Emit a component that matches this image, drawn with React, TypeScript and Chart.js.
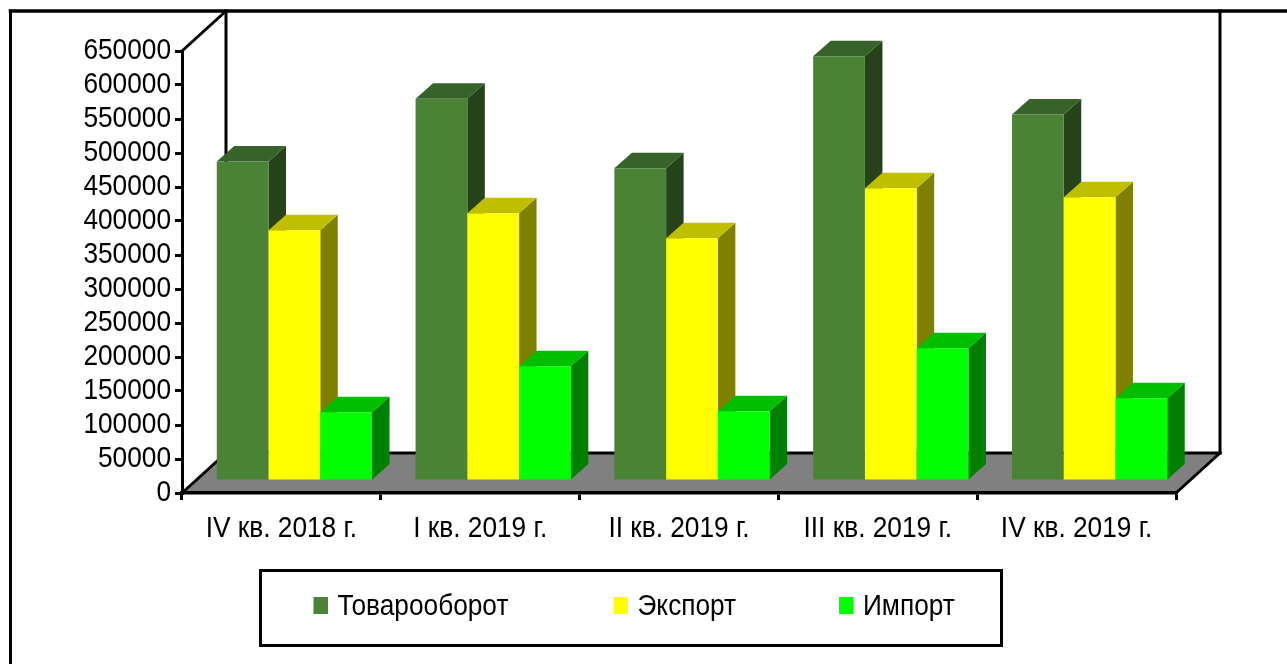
import React, { useEffect, useRef } from "react";
import { Chart, registerables } from "chart.js";

Chart.register(...registerables);

const categories = ["IV кв. 2018 г.", "I кв. 2019 г.", "II кв. 2019 г.", "III кв. 2019 г.", "IV кв. 2019 г."];
const turnover = [470000, 562000, 460000, 624500, 539000];
const exportsValues = [368700, 393700, 357000, 430400, 417200];
const importsValues = [101000, 168700, 102500, 195100, 121600];
const yTicks = { min: 0, max: 650000, step: 50000 };

const seriesLabels = ["Товарооборот", "Экспорт", "Импорт"];
const frontColors = ["#4A8236", "#FFFF00", "#00FF00"];
const topColors = ["#37622A", "#BFBF00", "#00BF00"];
const sideColors = ["#25421B", "#808000", "#008000"];

const FONT = '"Liberation Sans", Arial, sans-serif';
const FONT_SIZE = 30;
const TEXT_SQUEEZE = 0.875;

const WALL_DX = 44;
const WALL_DY = 40;
const BAR_SHIFT_X = 13;
const BAR_SHIFT_Y = 12;
const BAR_DX = 17.5;
const BAR_DY = 15.5;

function poly(ctx: CanvasRenderingContext2D, pts: number[][], fill: string) {
  ctx.fillStyle = fill;
  ctx.beginPath();
  pts.forEach(([x, y], i) => (i ? ctx.lineTo(x, y) : ctx.moveTo(x, y)));
  ctx.closePath();
  ctx.fill();
}

function line(ctx: CanvasRenderingContext2D, x1: number, y1: number, x2: number, y2: number, w = 3) {
  ctx.strokeStyle = "#000";
  ctx.lineWidth = w;
  ctx.lineCap = "square";
  ctx.beginPath();
  ctx.moveTo(x1, y1);
  ctx.lineTo(x2, y2);
  ctx.stroke();
}

const stagePlugin = {
  id: "stage",
  beforeDraw(chart: any) {
    const { ctx, chartArea: a, width, height } = chart;
    ctx.save();
    ctx.fillStyle = "#fff";
    ctx.fillRect(0, 0, width, height);
    // outer frame
    line(ctx, 10.5, 11, width + 4, 11, 3.5);
    line(ctx, 10.5, 11, 10.5, height + 4, 3);
    // floor and back walls
    poly(ctx, [
      [a.left, a.bottom],
      [a.left + WALL_DX, a.bottom - WALL_DY],
      [a.right + WALL_DX, a.bottom - WALL_DY],
      [a.right, a.bottom],
    ], "#808080");
    line(ctx, a.left + WALL_DX, a.top - WALL_DY, a.left + WALL_DX, a.bottom - WALL_DY);
    line(ctx, a.right + WALL_DX, a.top - WALL_DY, a.right + WALL_DX, a.bottom - WALL_DY);
    line(ctx, a.left + WALL_DX, a.bottom - WALL_DY, a.right + WALL_DX, a.bottom - WALL_DY);
    line(ctx, a.left, a.top, a.left + WALL_DX, a.top - WALL_DY);
    line(ctx, a.left, a.bottom, a.left + WALL_DX, a.bottom - WALL_DY);
    line(ctx, a.right, a.bottom, a.right + WALL_DX, a.bottom - WALL_DY);
    ctx.restore();
  },
  beforeDatasetDraw() {
    return false;
  },
  afterDatasetsDraw(chart: any) {
    const { ctx } = chart;
    ctx.save();
    ctx.translate(BAR_SHIFT_X, -BAR_SHIFT_Y);
    chart.data.datasets.forEach((_: any, di: number) => {
      chart.getDatasetMeta(di).data.forEach((bar: any) => {
        const l = bar.x - bar.width / 2;
        const r = bar.x + bar.width / 2;
        const t = bar.y;
        const b = bar.base;
        poly(ctx, [[r, t], [r + BAR_DX, t - BAR_DY], [r + BAR_DX, b - BAR_DY], [r, b]], sideColors[di]);
        poly(ctx, [[l, t], [l + BAR_DX, t - BAR_DY], [r + BAR_DX, t - BAR_DY], [r, t]], topColors[di]);
        bar.draw(ctx);
      });
    });
    ctx.restore();
  },
  afterDraw(chart: any) {
    const { ctx } = chart;
    ctx.save();
    // legend box
    ctx.strokeStyle = "#000";
    ctx.lineWidth = 3;
    ctx.strokeRect(260.5, 570.5, 741, 75);
    const swatchX = [313.5, 613.5, 839];
    ctx.font = `${FONT_SIZE}px ${FONT}`;
    ctx.textBaseline = "middle";
    ctx.textAlign = "left";
    chart.data.datasets.forEach((ds: any, i: number) => {
      ctx.fillStyle = ds.backgroundColor;
      ctx.fillRect(swatchX[i], 597, 14.5, 17);
      ctx.fillStyle = "#000";
      ctx.fillText(ds.label, swatchX[i] + 24, 607);
    });
    ctx.restore();
  },
};

export default function App() {
  const ref = useRef<HTMLCanvasElement>(null);
  useEffect(() => {
    const canvas = ref.current!;
    const context = canvas.getContext("2d")!;
    // The reference's lettering is condensed: every label is drawn narrower than the font's natural width.
    const plainFillText = context.fillText;
    context.fillText = function (text: string, x: number, y: number) {
      const natural = context.measureText(text).width;
      plainFillText.call(context, text, x, y, natural * TEXT_SQUEEZE);
    } as any;
    const chart = new Chart(canvas, {
      type: "bar",
      data: {
        labels: categories,
        datasets: [
          { label: seriesLabels[0], data: turnover, backgroundColor: frontColors[0] },
          { label: seriesLabels[1], data: exportsValues, backgroundColor: frontColors[1] },
          { label: seriesLabels[2], data: importsValues, backgroundColor: frontColors[2] },
        ],
      },
      options: {
        responsive: false,
        animation: false,
        layout: { padding: { left: 0, right: 111, top: 51, bottom: 111 } },
        datasets: { bar: { barPercentage: 1, categoryPercentage: 0.781 } },
        plugins: { legend: { display: false }, tooltip: { enabled: false }, title: { display: false } },
        scales: {
          x: {
            afterFit(s: any) { s.height = 60; },
            grid: { drawOnChartArea: false, color: "#000", lineWidth: 3, tickLength: 7, tickColor: "#000" },
            border: { color: "#000", width: 3.5 },
            ticks: { color: "#000", font: { family: FONT, size: FONT_SIZE }, maxRotation: 0, autoSkip: false, padding: 11 },
          },
          y: {
            min: yTicks.min,
            max: yTicks.max,
            afterFit(s: any) { s.width = 182; },
            grid: { drawOnChartArea: false, color: "#000", lineWidth: 3, tickLength: 7, tickColor: "#000" },
            border: { color: "#000", width: 3 },
            ticks: {
              stepSize: yTicks.step,
              color: "#000",
              font: { family: FONT, size: FONT_SIZE },
              padding: 4,
              autoSkip: false,
              callback: (v: any) => String(v),
            },
          },
        },
      },
      plugins: [stagePlugin],
    } as any);
    return () => {
      chart.destroy();
      context.fillText = plainFillText;
    };
  }, []);
  return (
    <canvas
      ref={ref}
      width={1287}
      height={664}
      style={{ position: "fixed", left: 0, top: 0, width: 1287, height: 664, display: "block" }}
    />
  );
}
